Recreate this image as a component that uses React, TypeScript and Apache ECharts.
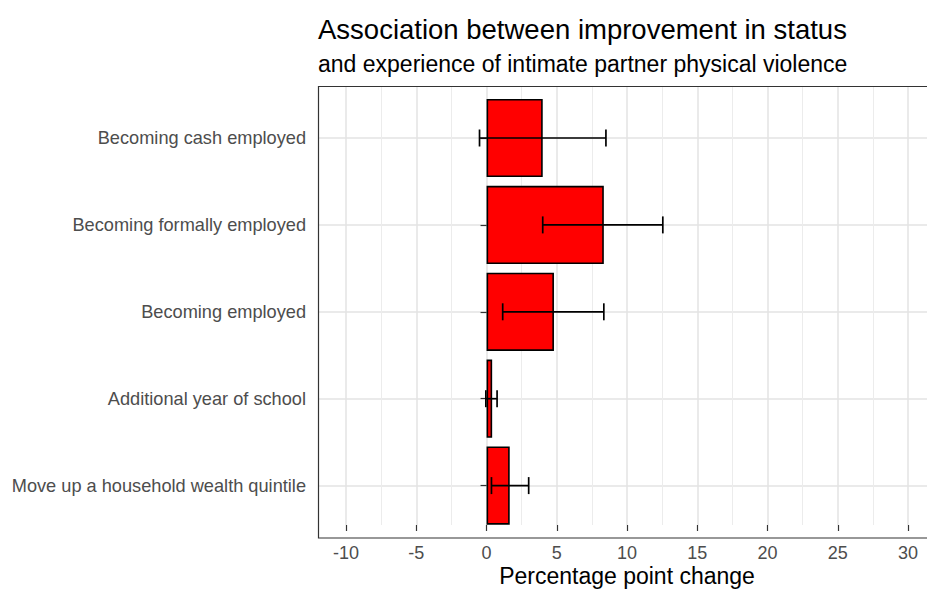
import React, { useEffect, useRef } from "react";
import * as echarts from "echarts";

const categories = [
  "Becoming cash employed",
  "Becoming formally employed",
  "Becoming employed",
  "Additional year of school",
  "Move up a household wealth quintile",
];
const estimates = [4.0, 8.35, 4.8, 0.4, 1.65];
const ciLow = [-0.5, 4.0, 1.15, -0.05, 0.35];
const ciHigh = [8.5, 12.55, 8.35, 0.75, 3.0];

const titleText = "Association between improvement in status";
const subtitleText = "and experience of intimate partner physical violence";
const xAxisTitle = "Percentage point change";

const FONT = "'Liberation Sans', Arial, sans-serif";

export default function App() {
  const ref = useRef<HTMLDivElement>(null);
  useEffect(() => {
    if (!ref.current) return;
    const chart = echarts.init(ref.current, undefined, { renderer: "svg" });
    const option: any = {
      animation: false,
      backgroundColor: "#ffffff",
      textStyle: { fontFamily: FONT },
      title: {
        text: titleText,
        subtext: subtitleText,
        left: 318,
        top: 15,
        padding: 0,
        itemGap: 9,
        textStyle: { fontSize: 27.5, fontWeight: "normal", color: "#000", fontFamily: FONT },
        subtextStyle: { fontSize: 23, color: "#000", fontFamily: FONT },
      },
      grid: [
        { left: 318, top: 138, width: 618, height: 347.6, containLabel: false },
        { left: 346, top: 86, width: 562, height: 452, containLabel: false },
      ],
      xAxis: [
        {
          type: "value",
          gridIndex: 0,
          min: -12,
          max: 32,
          show: false,
          splitLine: { show: false },
        },
        {
          type: "value",
          gridIndex: 1,
          min: -10,
          max: 30,
          interval: 5,
          axisLine: { show: false },
          axisTick: { show: true, length: 6, lineStyle: { color: "#333", width: 1.2 } },
          axisLabel: { fontSize: 18, color: "#4d4d4d", margin: 19, fontFamily: FONT },
          splitLine: { show: true, lineStyle: { color: "#e3e3e3", width: 1.5 } },
          minorTick: { show: false, splitNumber: 2 },
          minorSplitLine: { show: true, lineStyle: { color: "#ececec", width: 1 } },
          name: xAxisTitle,
          nameLocation: "middle",
          nameGap: 39,
          nameMoveOverlap: false,
          nameTextStyle: { fontSize: 23, color: "#000", fontFamily: FONT },
        },
      ],
      yAxis: [
        {
          type: "category",
          gridIndex: 0,
          data: categories,
          inverse: true,
          boundaryGap: false,
          axisLine: { show: false },
          axisTick: { show: true, length: 6, lineStyle: { color: "#333", width: 1.2 } },
          axisLabel: { fontSize: 18.2, color: "#4d4d4d", margin: 12, fontFamily: FONT },
          splitLine: { show: true, lineStyle: { color: "#e3e3e3", width: 1.5 } },
        },
        { type: "value", gridIndex: 1, show: false },
      ],
      graphic: [
        {
          type: "rect",
          z: 100,
          shape: { x: 318.5, y: 86.5, width: 618, height: 451.5 },
          style: { fill: "none", stroke: "#333", lineWidth: 1.2 },
          silent: true,
        },
      ],
      series: [
        {
          type: "bar",
          xAxisIndex: 0,
          yAxisIndex: 0,
          data: estimates,
          barWidth: "90%",
          clip: false,
          itemStyle: { color: "#ff0000", borderColor: "#000", borderWidth: 1.6 },
          z: 3,
        },
        {
          type: "custom",
          xAxisIndex: 0,
          yAxisIndex: 0,
          data: categories.map((_, i) => [ciLow[i], ciHigh[i], i]),
          encode: { x: [0, 1], y: 2 },
          clip: false,
          z: 5,
          renderItem: (params: any, api: any) => {
            const lo = api.coord([api.value(0), api.value(2)]);
            const hi = api.coord([api.value(1), api.value(2)]);
            const h = 8.5;
            const st = { stroke: "#000", lineWidth: 1.7 };
            return {
              type: "group",
              children: [
                { type: "line", shape: { x1: lo[0], y1: lo[1], x2: hi[0], y2: hi[1] }, style: st },
                { type: "line", shape: { x1: lo[0], y1: lo[1] - h, x2: lo[0], y2: lo[1] + h }, style: st },
                { type: "line", shape: { x1: hi[0], y1: hi[1] - h, x2: hi[0], y2: hi[1] + h }, style: st },
              ],
            };
          },
        },
      ],
    };
    chart.setOption(option);
    return () => chart.dispose();
  }, []);
  return (
    <div
      ref={ref}
      style={{ position: "fixed", left: 0, top: 0, width: 960, height: 592, background: "#fff" }}
    />
  );
}
